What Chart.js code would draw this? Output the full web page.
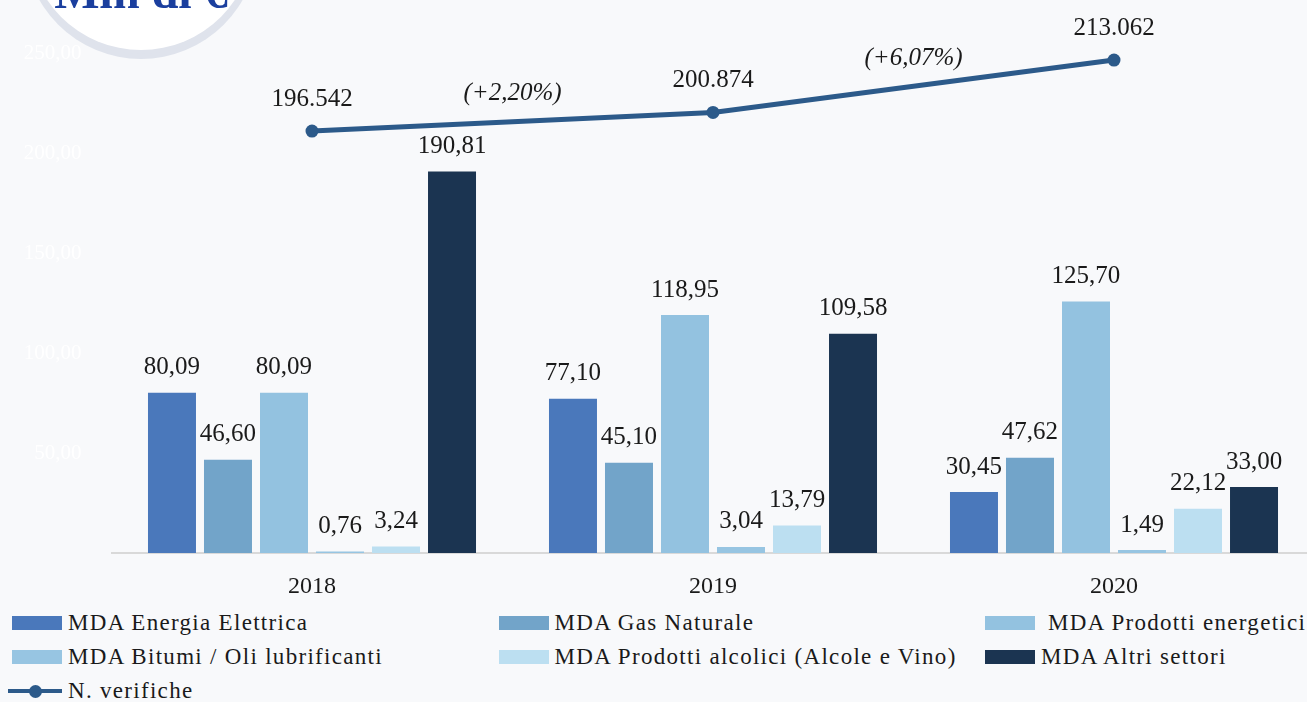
<!DOCTYPE html>
<html lang="it">
<head>
<meta charset="utf-8">
<title>MDA per settore e N. verifiche 2018-2020</title>
<script src="https://cdn.jsdelivr.net/npm/chart.js@4.4.1/dist/chart.umd.min.js"></script>
<style>
  html, body { margin: 0; padding: 0; background: #f8f9fb; overflow: hidden; }
  body { width: 1307px; height: 702px; position: relative; font-family: "Liberation Serif", serif; }
  #wrap { position: absolute; left: 0; top: 0; width: 1330px; height: 600px; }
  #badge {
    position: absolute; left: 28px; top: -176px; width: 226px; height: 226px;
    border-radius: 50%; background: #fff;
    box-shadow: 0 0 0 4px #dfe3ec, 0 5px 0 4px #dfe3ec;
  }
  #unit {
    position: absolute; left: 0; top: -32px; width: 282px; text-align: center;
    font: bold 48px/48px "Liberation Serif", serif; color: #1b3f9e;
  }
  #legend {
    position: absolute; left: 12px; top: 606px;
    display: grid; grid-template-columns: 486.5px 486.5px 486.5px; grid-auto-rows: 34px;
    font-size: 23px; letter-spacing: 1.3px; color: #1a1a1a;
  }
  .item { display: flex; align-items: center; white-space: pre; }
  .box { width: 50px; height: 14px; margin-right: 6px; flex: none; }
  .lineMark { position: relative; width: 54px; height: 4px; margin-left: -4px; margin-right: 6px; flex: none; }
  .lineMark span { position: absolute; left: 21px; top: -4.5px; width: 13px; height: 13px; border-radius: 50%; }
</style>
</head>
<body>
<div id="wrap"><canvas id="chart" width="1330" height="600"></canvas></div>
<div id="badge"></div>
<div id="unit">Mln di €</div>
<div id="legend"></div>

<script>
// Dati (Mln di €)
const years = ['2018', '2019', '2020'];
const energiaElettrica = [80.09, 77.10, 30.45];
const gasNaturale = [46.60, 45.10, 47.62];
const prodottiEnergetici = [80.09, 118.95, 125.70];
const bitumiOli = [0.76, 3.04, 1.49];
const prodottiAlcolici = [3.24, 13.79, 22.12];
const altriSettori = [190.81, 109.58, 33.00];
const numeroVerifiche = [196542, 200874, 213062];
const growthLabels = ['(+2,20%)', '(+6,07%)'];
const yTicks = [0, 50, 100, 150, 200, 250];

const fmtEuro = v => v.toFixed(2).replace('.', ',');
const fmtCount = v => String(v).replace(/\B(?=(\d{3})+(?!\d))/g, '.');

// etichette sopra barre e punti, più le variazioni percentuali
const valueLabels = {
  id: 'valueLabels',
  afterDatasetsDraw(chart) {
    const ctx = chart.ctx;
    ctx.save();
    ctx.fillStyle = '#1a1a1a';
    ctx.textAlign = 'center';
    ctx.textBaseline = 'middle';
    ctx.font = '25px "Liberation Serif"';
    let lineMeta = null;
    chart.data.datasets.forEach((ds, i) => {
      const meta = chart.getDatasetMeta(i);
      if (ds.type === 'line') lineMeta = meta;
      meta.data.forEach((el, j) => {
        const v = ds.data[j];
        if (ds.type === 'line') ctx.fillText(fmtCount(v), el.x, el.y - 32);
        else ctx.fillText(fmtEuro(v), el.x, el.y - 25);
      });
    });
    if (lineMeta) {
      ctx.font = 'italic 25px "Liberation Serif"';
      growthLabels.forEach((t, k) => {
        const a = lineMeta.data[k], b = lineMeta.data[k + 1];
        ctx.fillText(t, (a.x + b.x) / 2, (a.y + b.y) / 2 - 28);
      });
    }
    ctx.restore();
  }
};

const chart = new Chart(document.getElementById('chart'), {
  data: {
    labels: years,
    datasets: [
      { type: 'bar', label: 'MDA Energia Elettrica', data: energiaElettrica, backgroundColor: '#4a78bb' },
      { type: 'bar', label: 'MDA Gas Naturale', data: gasNaturale, backgroundColor: '#72a4c9' },
      { type: 'bar', label: ' MDA Prodotti energetici', data: prodottiEnergetici, backgroundColor: '#93c2e0' },
      { type: 'bar', label: 'MDA Bitumi / Oli lubrificanti', data: bitumiOli, backgroundColor: '#97c5e2' },
      { type: 'bar', label: 'MDA Prodotti alcolici (Alcole e Vino)', data: prodottiAlcolici, backgroundColor: '#bcdff1' },
      { type: 'bar', label: 'MDA Altri settori', data: altriSettori, backgroundColor: '#1b3451' },
      {
        type: 'line', label: 'N. verifiche', data: numeroVerifiche, yAxisID: 'y1',
        borderColor: '#2c5a8a', backgroundColor: '#2c5a8a', borderWidth: 5,
        pointRadius: 6.5, pointBackgroundColor: '#2c5a8a', pointBorderWidth: 0
      }
    ]
  },
  options: {
    responsive: false,
    devicePixelRatio: 1,
    animation: false,
    layout: { padding: { top: 53, right: 15.5, left: 0, bottom: 0 } },
    datasets: { bar: { categoryPercentage: 0.838, barPercentage: 0.857 } },
    plugins: { legend: { display: false }, tooltip: { enabled: false } },
    scales: {
      x: {
        grid: { display: false, drawTicks: false },
        border: { display: true, color: '#d9d9d9', width: 2 },
        ticks: { color: '#1a1a1a', font: { family: 'Liberation Serif', size: 24 }, padding: 19 },
        afterFit: s => { s.height = 47; }
      },
      y: {
        min: 0, max: 250,
        grid: { display: false, drawTicks: false },
        border: { display: false },
        afterBuildTicks: s => { s.ticks = yTicks.map(v => ({ value: v })); },
        ticks: { color: '#ffffff', font: { family: 'Liberation Serif', size: 21 }, padding: 30,
                 callback: v => v === 0 ? '' : fmtEuro(v) },
        afterFit: s => { s.width = 111.5; }
      },
      y1: { display: false, min: 98400, max: 214700 }
    }
  },
  plugins: [valueLabels]
});

// legenda a tre colonne, come nell'originale
const legend = document.getElementById('legend');
chart.data.datasets.forEach(ds => {
  const item = document.createElement('div');
  item.className = 'item';
  const mark = document.createElement('div');
  if (ds.type === 'line') {
    mark.className = 'lineMark';
    mark.style.background = ds.borderColor;
    const dot = document.createElement('span');
    dot.style.background = ds.borderColor;
    mark.appendChild(dot);
  } else {
    mark.className = 'box';
    mark.style.background = ds.backgroundColor;
  }
  item.appendChild(mark);
  item.appendChild(document.createTextNode(ds.label));
  legend.appendChild(item);
});
</script>
</body>
</html>
